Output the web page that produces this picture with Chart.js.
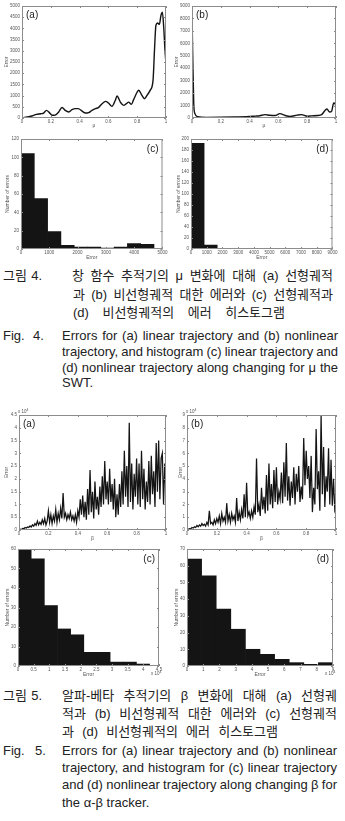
<!DOCTYPE html>
<html>
<head>
<meta charset="utf-8">
<script src="https://cdn.jsdelivr.net/npm/chart.js@4.4.1/dist/chart.umd.min.js"></script>
<style>
html, body { margin: 0; padding: 0; background: #fff; }
body { position: relative; width: 345px; height: 821px; overflow: hidden; }
canvas { position: absolute; }
.cap { position: absolute; white-space: nowrap; font: 13px/14px "Liberation Sans", "Noto Sans CJK KR", sans-serif; color: #222; }
</style>
</head>
<body>
<script>
// Fig. 4 (a): error vs mu, linear trajectory
const fig4aMu = [0, 0.035, 0.07, 0.10, 0.13, 0.15, 0.17, 0.19, 0.21, 0.23, 0.255, 0.278, 0.30, 0.325, 0.347, 0.37, 0.39, 0.417, 0.44, 0.463, 0.486, 0.51, 0.53, 0.556, 0.58, 0.60, 0.625, 0.648, 0.66, 0.683, 0.706, 0.725, 0.74, 0.76, 0.775, 0.80, 0.81, 0.833, 0.85, 0.868, 0.89, 0.91, 0.92, 0.93, 0.942, 0.954, 0.965, 0.975, 0.984, 0.993, 1.0];
const fig4aErr = [0, 45, 90, 160, 190, 220, 340, 240, 120, 130, 270, 470, 340, 270, 370, 420, 420, 310, 220, 240, 340, 420, 460, 640, 740, 670, 520, 790, 980, 710, 565, 640, 710, 610, 820, 1160, 1240, 1010, 860, 1010, 1235, 1680, 3020, 4140, 4240, 4180, 4580, 4720, 4060, 3020, 2430];

// Fig. 4 (b): error vs mu, nonlinear trajectory
const fig4bMu = [0, 0.005, 0.012, 0.02, 0.04, 0.1, 0.2, 0.3, 0.38, 0.44, 0.47, 0.507, 0.54, 0.577, 0.61, 0.647, 0.68, 0.73, 0.76, 0.8, 0.83, 0.87, 0.9, 0.925, 0.937, 0.956, 0.97, 0.984, 0.993, 1.0];
const fig4bErr = [8400, 5000, 1200, 350, 100, 50, 60, 80, 100, 150, 180, 270, 220, 200, 350, 200, 120, 230, 270, 140, 170, 200, 270, 620, 720, 480, 560, 1200, 1150, 880];

// Fig. 4 (c), (d): histograms (bin centres, counts)
const fig4cBins = [235, 705, 1175, 1645, 2115, 2585, 3055, 3525, 3995, 4465];
const fig4cCounts = [104, 55, 19, 4, 2, 2, 1, 2, 6, 5];
const fig4dBins = [417, 1250, 2083, 2917, 3750, 4583, 5417, 6250, 7083, 7917];
const fig4dCounts = [192, 7, 0, 0, 0, 0, 0, 0, 0, 1];

// Fig. 5 (a), (b): error (x 10^4) vs beta, evenly sampled
const fig5aErr = [
  0, 0.03, 0.02, 0.06, 0.05, 0.1, 0.08, 0.12, 0.1, 0.16, 0.12, 0.2, 0.15, 0.25, 0.18, 0.35, 0.2, 0.3, 0.22, 0.4,
  0.25, 0.45, 0.2, 0.35, 0.75, 0.3, 0.6, 0.25, 0.55, 0.35, 0.8, 0.3, 0.65, 0.4, 0.85, 0.45, 1.45, 0.5, 0.65, 0.4,
  0.6, 0.45, 0.7, 0.4, 0.55, 0.35, 0.6, 0.3, 0.75, 0.5, 1.2, 0.6, 1.35, 0.5, 1.1, 0.4, 1.6, 0.6, 2.35, 0.7,
  1.5, 0.45, 1.9, 0.8, 1.3, 0.6, 1.7, 0.9, 2.1, 1.0, 2.7, 1.2, 1.9, 1.0, 2.4, 1.1, 1.8, 0.8, 2.0, 0.5,
  1.4, 0.6, 1.8, 0.9, 2.3, 1.0, 3.1, 1.3, 2.5, 0.9, 4.2, 1.1, 2.6, 0.8, 2.2, 1.3, 2.8, 1.0, 2.6, 0.9,
  3.1, 1.2, 2.4, 0.8, 1.9, 1.1, 2.7, 1.0, 2.9, 1.4, 2.3, 0.9, 3.4, 1.5, 3.5, 1.2, 2.8, 3.0, 1.0, 2.6, 1.4
];
const fig5bErr = [
  0, 0.05, 0.1, 0.08, 0.2, 0.15, 0.25, 0.2, 0.35, 0.25, 0.4, 0.3, 0.5, 0.35, 0.45, 0.3, 0.6, 0.4, 1.5, 0.5,
  0.6, 0.4, 0.8, 0.5, 0.9, 0.6, 1.1, 0.5, 1.3, 0.7, 1.0, 0.6, 2.1, 0.7, 1.2, 0.6, 1.3, 0.8, 1.1, 0.6,
  2.5, 0.7, 1.4, 0.8, 1.6, 0.9, 2.8, 1.0, 3.7, 1.1, 1.4, 0.9, 1.5, 1.0, 1.8, 1.2, 5.6, 1.4, 2.0, 1.1,
  3.3, 1.6, 2.6, 1.3, 4.3, 1.5, 5.2, 2.0, 3.6, 1.7, 4.7, 2.2, 4.9, 2.0, 3.0, 2.4, 4.5, 2.1, 5.3, 2.6,
  6.8, 2.3, 4.2, 1.9, 3.8, 2.5, 4.9, 2.0, 4.4, 3.0, 5.0, 2.2, 3.4, 2.4, 7.2, 3.5, 6.2, 4.0, 5.0, 2.5,
  5.8, 1.4, 3.3, 2.0, 7.9, 3.2, 4.6, 1.5, 9.0, 2.8, 6.5, 1.8, 4.2, 3.0, 6.4, 2.0, 5.5, 1.9, 4.0, 1.6, 2.0
];
const fig5Beta = fig5aErr.map((_, i) => i / (fig5aErr.length - 1));

// Fig. 5 (c), (d): histograms (bin centres x 10^4, counts)
const fig5cBins = [0.21, 0.63, 1.05, 1.47, 1.89, 2.31, 2.73, 3.15, 3.57, 3.99];
const fig5cCounts = [60, 55, 31, 19, 16, 7, 7, 2, 2, 1];
const fig5dBins = [0.45, 1.35, 2.25, 3.15, 4.05, 4.95, 5.85, 6.75, 7.65, 8.55];
const fig5dCounts = [64, 54, 34, 22, 10, 7, 4, 2, 1, 2];

// caption lines: text, left, centre y, justified width
const captionLines = [
  ['그림 4.', 3, 276, 39],
  ['창 함수 추적기의 μ 변화에 대해 (a) 선형궤적', 72, 276, 261],
  ['과 (b) 비선형궤적 대한 에러와 (c) 선형궤적과', 73, 295, 260],
  ['(d) 비선형궤적의 에러 히스토그램', 73, 313, 212],
  ['Fig.', 3, 336, null],
  ['4.', 33, 336, null],
  ['Errors for (a) linear trajectory and (b) nonlinear', 62, 336, 276],
  ['trajectory, and histogram (c) linear trajectory and', 62, 352, 276],
  ['(d) nonlinear trajectory along changing for μ the', 62, 368, 276],
  ['SWT.', 62, 383, null],
  ['그림 5.', 3, 696, 39],
  ['알파-베타 추적기의 β 변화에 대해 (a) 선형궤', 62, 696, 275],
  ['적과 (b) 비선형궤적 대한 에러와 (c) 선형궤적', 62, 714, 275],
  ['과 (d) 비선형궤적의 에러 히스토그램', 62, 732, 216],
  ['Fig.', 3, 751, null],
  ['5.', 35, 751, null],
  ['Errors for (a) linear trajectory and (b) nonlinear', 62, 751, 275],
  ['trajectory, and histogram for (c) linear trajectory', 62, 768, 275],
  ['and (d) nonlinear trajectory along changing β for', 62, 785, 275],
  ['the α-β tracker.', 62, 803, null],
];

Chart.defaults.font.family = '"Liberation Sans", Arial, sans-serif';
Chart.defaults.color = '#555';

const AXIS = '#8c8c8c';
const INK = '#141414';

// box, inward tick marks, panel label and exponent note
const framePlugin = {
  id: 'frame',
  afterDraw(chart, args, opts) {
    const { ctx, chartArea: a, scales } = chart;
    ctx.save();
    ctx.strokeStyle = AXIS;
    ctx.lineWidth = 1;
    ctx.strokeRect(a.left + 0.5, a.top + 0.5, a.right - a.left - 1, a.bottom - a.top - 1);
    ctx.beginPath();
    scales.x.ticks.forEach(t => {
      const px = Math.round(scales.x.getPixelForValue(t.value)) + 0.5;
      ctx.moveTo(px, a.bottom); ctx.lineTo(px, a.bottom - 2);
      ctx.moveTo(px, a.top); ctx.lineTo(px, a.top + 2);
    });
    scales.y.ticks.forEach(t => {
      const py = Math.round(scales.y.getPixelForValue(t.value)) + 0.5;
      ctx.moveTo(a.left, py); ctx.lineTo(a.left + 2, py);
      ctx.moveTo(a.right, py); ctx.lineTo(a.right - 2, py);
    });
    ctx.stroke();

    ctx.fillStyle = '#222';
    ctx.font = '10px "Liberation Sans", Arial, sans-serif';
    ctx.textBaseline = 'alphabetic';
    if (opts.corner === 'right') {
      ctx.textAlign = 'right';
      ctx.fillText(opts.label, a.right - 4, a.top + 13);
    } else {
      ctx.textAlign = 'left';
      ctx.fillText(opts.label, a.left + 4, a.top + 12);
    }

    if (opts.exp) {
      ctx.fillStyle = '#555';
      ctx.textAlign = 'left';
      const x = opts.exp === 'top' ? a.left - 1 : a.right - 8;
      const y = opts.exp === 'top' ? a.top - 2 : a.bottom + 9;
      ctx.font = '4.5px "Liberation Sans", Arial, sans-serif';
      ctx.fillText('x 10', x, y);
      ctx.font = '3.5px "Liberation Sans", Arial, sans-serif';
      ctx.fillText('4', x + 8.5, y - 2.5);
    }
    ctx.restore();
  }
};

const tickFont = { size: 4.5 };
const titleFont = { size: 5 };
const plain = v => String(+Number(v).toFixed(2));

function makePanel(p) {
  const w = p.R - p.L + p.pl + p.pr;
  const h = p.B - p.T + p.pt + p.pb;
  const c = document.createElement('canvas');
  c.width = w; c.height = h;
  c.style.left = (p.L - p.pl) + 'px';
  c.style.top = (p.T - p.pt) + 'px';
  c.style.width = w + 'px';
  c.style.height = h + 'px';
  document.body.appendChild(c);

  new Chart(c, {
    type: p.type,
    data: { datasets: [p.dataset] },
    options: {
      responsive: false,
      animation: false,
      devicePixelRatio: 1,
      layout: { padding: { left: 0, top: p.pt, right: p.pr, bottom: 0 } },
      plugins: {
        legend: { display: false },
        tooltip: { enabled: false },
        frame: { label: p.label, corner: p.corner, exp: p.exp },
      },
      scales: {
        x: {
          type: 'linear',
          min: p.x[0], max: p.x[1],
          offset: false,
          grid: { display: false, drawTicks: false },
          border: { display: false },
          ticks: { stepSize: p.x[2], autoSkip: false, maxRotation: 0, padding: 1.5, font: tickFont, callback: plain },
          title: { display: true, text: p.xTitle, padding: 0, font: titleFont, color: '#555' },
          afterFit(s) { s.height = p.pb; },
        },
        y: {
          min: p.y[0], max: p.y[1],
          grid: { display: false, drawTicks: false },
          border: { display: false },
          ticks: { stepSize: p.y[2], autoSkip: false, padding: 2, font: tickFont, callback: plain },
          title: { display: true, text: p.yTitle, padding: 0, font: titleFont, color: '#555' },
          afterFit(s) { s.width = p.pl; },
        },
      },
    },
    plugins: [framePlugin],
  });
}

function lineSet(xs, ys, width, smooth) {
  return {
    data: xs.map((x, i) => ({ x, y: ys[i] })),
    borderColor: INK,
    borderWidth: width,
    pointRadius: 0,
    fill: false,
    tension: smooth ? 0.4 : 0,
    cubicInterpolationMode: smooth ? 'monotone' : 'default',
  };
}

function barSet(bins, counts) {
  return {
    data: bins.map((x, i) => ({ x, y: counts[i] })),
    backgroundColor: INK,
    borderWidth: 0,
    barPercentage: 1,
    categoryPercentage: 1,
  };
}

const panels = [
  { type: 'line', L: 22, T: 6, R: 166, B: 118, pl: 18, pt: 5, pr: 6, pb: 11,
    x: [0, 1, 0.2], y: [0, 5000, 500], xTitle: 'μ', yTitle: 'Error', label: '(a)', corner: 'left',
    dataset: lineSet(fig4aMu, fig4aErr, 1.4, true) },
  { type: 'line', L: 192, T: 6, R: 336, B: 118, pl: 18, pt: 5, pr: 6, pb: 11,
    x: [0, 1, 0.2], y: [0, 9000, 1000], xTitle: 'μ', yTitle: 'Error', label: '(b)', corner: 'left',
    dataset: lineSet(fig4bMu, fig4bErr, 1.4, true) },
  { type: 'bar', L: 21, T: 139, R: 163, B: 249, pl: 16, pt: 6, pr: 6, pb: 12,
    x: [0, 5000, 1000], y: [0, 120, 20], xTitle: 'Error', yTitle: 'Number of errors', label: '(c)', corner: 'right',
    dataset: barSet(fig4cBins, fig4cCounts) },
  { type: 'bar', L: 191, T: 139, R: 333, B: 249, pl: 15, pt: 6, pr: 6, pb: 12,
    x: [0, 9000, 1000], y: [0, 200, 20], xTitle: 'Error', yTitle: 'Number of errors', label: '(d)', corner: 'right',
    dataset: barSet(fig4dBins, fig4dCounts) },
  { type: 'line', L: 19, T: 415, R: 166, B: 530, pl: 15, pt: 10, pr: 6, pb: 12,
    x: [0, 1, 0.2], y: [0, 4.5, 0.5], xTitle: 'β', yTitle: 'Error', label: '(a)', corner: 'left', exp: 'top',
    dataset: lineSet(fig5Beta, fig5aErr, 1.25, false) },
  { type: 'line', L: 187, T: 415, R: 336, B: 530, pl: 9, pt: 10, pr: 6, pb: 12,
    x: [0, 1, 0.2], y: [0, 9, 1], xTitle: 'β', yTitle: 'Error', label: '(b)', corner: 'left', exp: 'top',
    dataset: lineSet(fig5Beta, fig5bErr, 1.25, false) },
  { type: 'bar', L: 18, T: 549, R: 159, B: 666, pl: 13, pt: 6, pr: 8, pb: 12,
    x: [0, 4.5, 0.5], y: [0, 60, 10], xTitle: 'Error', yTitle: 'Number of errors', label: '(c)', corner: 'right', exp: 'bottom',
    dataset: barSet(fig5cBins, fig5cCounts) },
  { type: 'bar', L: 187, T: 549, R: 333, B: 666, pl: 13, pt: 6, pr: 8, pb: 12,
    x: [0, 9, 1], y: [0, 70, 10], xTitle: 'Error', yTitle: 'Number of errors', label: '(d)', corner: 'right', exp: 'bottom',
    dataset: barSet(fig5dBins, fig5dCounts) },
];

panels.forEach(makePanel);

// captions, spread to the reference line widths
const capEls = captionLines.map(([text, x, cy, w]) => {
  const d = document.createElement('div');
  d.className = 'cap';
  d.textContent = text;
  d.style.left = x + 'px';
  d.style.top = (cy - 7) + 'px';
  document.body.appendChild(d);
  return { d, text, w };
});

function justify() {
  capEls.forEach(({ d, text, w }) => {
    if (!w) return;
    d.style.wordSpacing = '0px';
    const spaces = (text.match(/ /g) || []).length;
    if (!spaces) return;
    const natural = d.getBoundingClientRect().width;
    d.style.wordSpacing = ((w - natural) / spaces) + 'px';
  });
}
justify();
if (document.fonts) document.fonts.ready.then(justify);
</script>
</body>
</html>
